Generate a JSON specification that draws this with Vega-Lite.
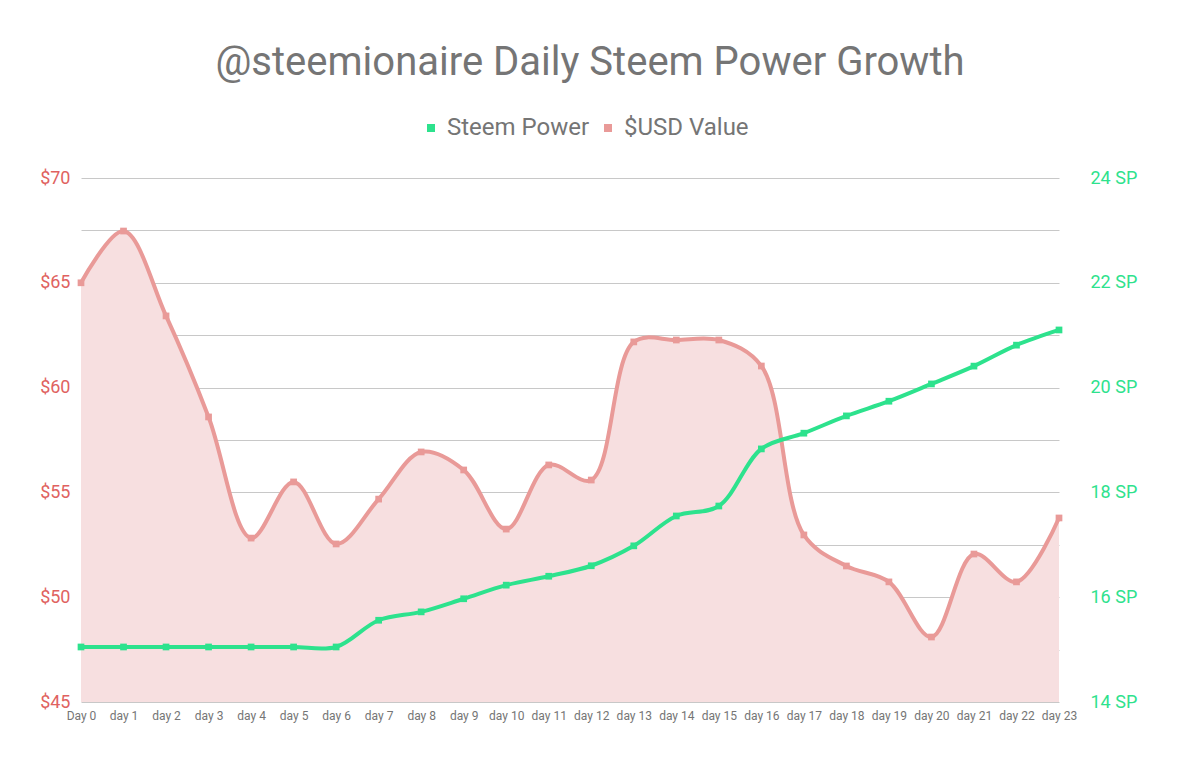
{
  "$schema": "https://vega.github.io/schema/vega-lite/v6.json",
  "width": 978,
  "height": 524,
  "autosize": {"type": "none"},
  "padding": {"left": 81, "top": 178, "right": 121, "bottom": 60},
  "background": "#ffffff",
  "title": {
    "text": "@steemionaire Daily Steem Power Growth",
    "font": "Roboto",
    "fontSize": 40,
    "fontWeight": "normal",
    "color": "#757575",
    "anchor": "middle",
    "frame": "group",
    "dx": 20,
    "offset": 33
  },
  "data": {
    "values": [
      {"day": "Day 0", "usd": 65.0, "sp": 15.05},
      {"day": "day 1", "usd": 67.47, "sp": 15.05},
      {"day": "day 2", "usd": 63.42, "sp": 15.05},
      {"day": "day 3", "usd": 58.6, "sp": 15.05},
      {"day": "day 4", "usd": 52.82, "sp": 15.05},
      {"day": "day 5", "usd": 55.5, "sp": 15.05},
      {"day": "day 6", "usd": 52.54, "sp": 15.05},
      {"day": "day 7", "usd": 54.68, "sp": 15.56},
      {"day": "day 8", "usd": 56.93, "sp": 15.72},
      {"day": "day 9", "usd": 56.07, "sp": 15.97},
      {"day": "day 10", "usd": 53.25, "sp": 16.23},
      {"day": "day 11", "usd": 56.31, "sp": 16.4},
      {"day": "day 12", "usd": 55.59, "sp": 16.6},
      {"day": "day 13", "usd": 62.18, "sp": 16.98},
      {"day": "day 14", "usd": 62.27, "sp": 17.55},
      {"day": "day 15", "usd": 62.27, "sp": 17.74},
      {"day": "day 16", "usd": 61.03, "sp": 18.83},
      {"day": "day 17", "usd": 52.97, "sp": 19.13},
      {"day": "day 18", "usd": 51.49, "sp": 19.46},
      {"day": "day 19", "usd": 50.73, "sp": 19.74},
      {"day": "day 20", "usd": 48.1, "sp": 20.07},
      {"day": "day 21", "usd": 52.06, "sp": 20.41},
      {"day": "day 22", "usd": 50.73, "sp": 20.81},
      {"day": "day 23", "usd": 53.78, "sp": 21.1}
    ]
  },
  "encoding": {
    "x": {
      "field": "day",
      "type": "ordinal",
      "sort": null,
      "scale": {"type": "point", "padding": 0},
      "axis": {
        "title": null,
        "labelAngle": 0,
        "labelFont": "Roboto",
        "labelFontSize": 12,
        "labelColor": "#757575",
        "labelPadding": 8,
        "labelOverlap": false,
        "labelBound": false,
        "labelFlush": false,
        "ticks": false,
        "domain": false,
        "grid": false
      }
    }
  },
  "layer": [
    {
      "layer": [
        {
          "mark": {"type": "area", "interpolate": "catmull-rom", "color": "#F7DFE0", "opacity": 1},
          "encoding": {
            "y": {
              "field": "usd",
              "type": "quantitative",
              "scale": {"domain": [45, 70], "zero": false, "nice": false},
              "axis": {
                "title": null,
                "values": [45, 47.5, 50, 52.5, 55, 57.5, 60, 62.5, 65, 67.5, 70],
                "labelExpr": "datum.value % 5 === 0 ? '$' + datum.value : ''",
                "labelFont": "Roboto",
                "labelFontSize": 18,
                "labelColor": "#E0625F",
                "labelPadding": 11,
                "ticks": false,
                "domain": false,
                "grid": true,
                "gridColor": "#c8c8c8",
                "gridWidth": 1
              }
            },
            "y2": {"datum": 45}
          }
        },
        {
          "mark": {"type": "line", "interpolate": "catmull-rom", "strokeWidth": 4},
          "encoding": {
            "y": {"field": "usd", "type": "quantitative"},
            "color": {"datum": "$USD Value"}
          }
        },
        {
          "mark": {"type": "point", "shape": "square", "filled": true, "size": 45, "opacity": 1},
          "encoding": {
            "y": {"field": "usd", "type": "quantitative"},
            "color": {"datum": "$USD Value"}
          }
        }
      ]
    },
    {
      "layer": [
        {
          "mark": {"type": "line", "interpolate": "catmull-rom", "strokeWidth": 4},
          "encoding": {
            "y": {
              "field": "sp",
              "type": "quantitative",
              "scale": {"domain": [14, 24], "zero": false, "nice": false},
              "axis": {
                "orient": "right",
                "title": null,
                "values": [14, 16, 18, 20, 22, 24],
                "labelExpr": "datum.value + ' SP'",
                "labelFont": "Roboto",
                "labelFontSize": 18,
                "labelColor": "#2EE28D",
                "labelPadding": 31,
                "ticks": false,
                "domain": false,
                "grid": false
              }
            },
            "color": {
              "datum": "Steem Power",
              "scale": {"domain": ["Steem Power", "$USD Value"], "range": ["#2DE28D", "#E99A98"]},
              "legend": {
                "title": null,
                "orient": "none",
                "direction": "horizontal",
                "legendX": 338,
                "legendY": -62,
                "symbolType": "square",
                "symbolSize": 64,
                "symbolStrokeWidth": 0,
                "labelFont": "Roboto",
                "labelFontSize": 24,
                "labelColor": "#757575",
                "columnPadding": 6,
                "labelOffset": 4
              }
            }
          }
        },
        {
          "mark": {"type": "point", "shape": "square", "filled": true, "size": 45, "opacity": 1},
          "encoding": {
            "y": {"field": "sp", "type": "quantitative"},
            "color": {"datum": "Steem Power"}
          }
        }
      ]
    }
  ],
  "resolve": {"scale": {"y": "independent"}},
  "config": {
    "view": {"stroke": null}
  }
}
